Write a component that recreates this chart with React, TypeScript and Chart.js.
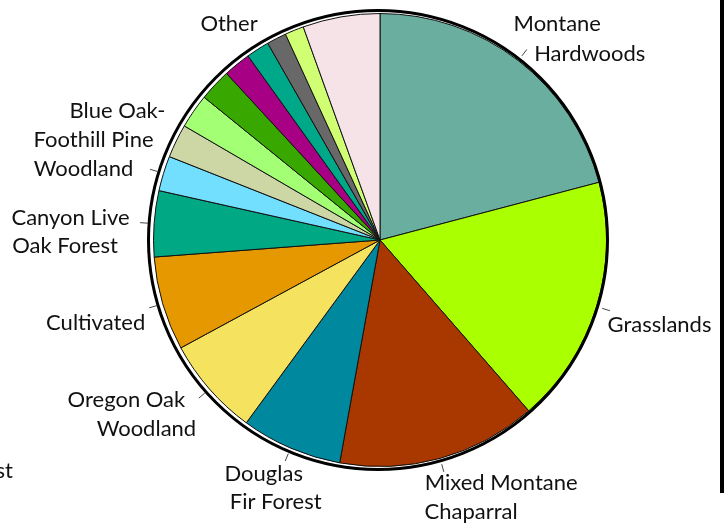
import React, { useEffect, useRef } from "react";
import { Chart, registerables } from "chart.js";

Chart.register(...registerables);

// ---- data ----
const categories = [
  "Montane Hardwoods",
  "Grasslands",
  "Mixed Montane Chaparral",
  "Douglas Fir Forest",
  "Oregon Oak Woodland",
  "Cultivated",
  "Canyon Live Oak Forest",
  "Blue Oak-Foothill Pine Woodland",
  "Unlabelled A",
  "Unlabelled B",
  "Unlabelled C",
  "Unlabelled D",
  "Unlabelled E",
  "Unlabelled F",
  "Unlabelled G",
  "Other",
];

const values = [20.9, 17.7, 14.25, 7.2, 7.05, 6.7, 4.7, 2.5, 2.4, 2.45, 2.3, 1.95, 1.65, 1.4, 1.35, 5.5];

const sliceColors = [
  "#6aaea0",
  "#aaff00",
  "#a83800",
  "#00889f",
  "#f5e35f",
  "#e69800",
  "#00a884",
  "#73dfff",
  "#cdd7a5",
  "#a3ff73",
  "#38a800",
  "#a80084",
  "#00a88a",
  "#686868",
  "#d1ff73",
  "#f5e3e8",
];

// label text lines shown for each slice (empty = no label)
const labelLines: string[][] = [
  ["Montane", "Hardwoods"],
  ["Grasslands"],
  ["Mixed Montane", "Chaparral"],
  ["Douglas", "Fir Forest"],
  ["Oregon Oak", "Woodland"],
  ["Cultivated"],
  ["Canyon Live", "Oak Forest"],
  ["Blue Oak-", "Foothill Pine", "Woodland"],
  [], [], [], [], [], [], [],
  ["Other"],
];

// ---- label layout (offsets of each line's centre from the slice's edge mid-point) ----
const LABEL_LAYOUT: ({ leader: boolean; offsets: [number, number][] } | null)[] = [
  { leader: true, offsets: [[39, -37], [71.5, -7]] },
  { leader: true, offsets: [[63, 18]] },
  { leader: true, offsets: [[61, 25], [31, 54]] },
  { leader: true, offsets: [[-27, 26], [-15, 54]] },
  { leader: true, offsets: [[-83, 11], [-63, 40]] },
  { leader: true, offsets: [[-67, 19]] },
  { leader: true, offsets: [[-83.5, -6], [-89, 22]] },
  { leader: true, offsets: [[-46, -62], [-70, -33], [-80, -4]] },
  null, null, null, null, null, null, null,
  { leader: false, offsets: [[-112, 7]] },
];

const FONT = '22px Lato, "Open Sans", sans-serif';

const labelPlugin = {
  id: "pieLabels",
  afterDraw(chart: any) {
    const ctx = chart.ctx as CanvasRenderingContext2D;
    const meta = chart.getDatasetMeta(0);
    if (!meta || !meta.data.length) return;
    const first = meta.data[0] as any;
    const cx = first.x;
    const cy = first.y;
    const r = first.outerRadius;

    ctx.save();
    // outer ring
    ctx.beginPath();
    ctx.strokeStyle = "#000";
    ctx.lineWidth = 3;
    ctx.arc(cx - 2, cy, r + 3, 0, Math.PI * 2);
    ctx.stroke();

    ctx.font = FONT;
    ctx.fillStyle = "#111";
    ctx.textAlign = "center";
    ctx.textBaseline = "middle";

    meta.data.forEach((arc: any, i: number) => {
      const layout = LABEL_LAYOUT[i];
      const lines = labelLines[i];
      if (!layout || !lines.length) return;
      const mid = (arc.startAngle + arc.endAngle) / 2;
      const px = cx + Math.cos(mid) * r;
      const py = cy + Math.sin(mid) * r;
      if (layout.leader) {
        ctx.beginPath();
        ctx.strokeStyle = "#444";
        ctx.lineWidth = 1;
        ctx.moveTo(cx + Math.cos(mid) * (r + 6), cy + Math.sin(mid) * (r + 6));
        ctx.lineTo(cx + Math.cos(mid) * (r + 14), cy + Math.sin(mid) * (r + 14));
        ctx.stroke();
      }
      lines.forEach((t, k) => {
        const off = layout.offsets[k] || [0, 0];
        ctx.fillText(t, px + off[0], py + off[1]);
      });
    });

    // cut-off text at the lower left edge
    ctx.textAlign = "right";
    ctx.fillText("Forest", 13, 471);

    // vertical bar at the right edge
    ctx.fillStyle = "#000";
    ctx.fillRect(720, 0, 4, 493);
    ctx.restore();
  },
};

export default function App() {
  const ref = useRef<HTMLCanvasElement | null>(null);
  useEffect(() => {
    if (!ref.current) return;
    const chart = new Chart(ref.current, {
      type: "pie",
      data: {
        labels: categories,
        datasets: [
          {
            data: values,
            backgroundColor: sliceColors,
            borderColor: "#111",
            borderWidth: 1,
          },
        ],
      },
      options: {
        animation: false,
        responsive: true,
        maintainAspectRatio: false,
        layout: { padding: { left: 153, right: 121, top: 13, bottom: 58 } },
        plugins: {
          legend: { display: false },
          tooltip: { enabled: false },
        },
      },
      plugins: [labelPlugin],
    });
    return () => chart.destroy();
  }, []);
  return (
    <div style={{ position: "absolute", left: 0, top: 0, width: 728, height: 525, background: "#fff" }}>
      <canvas ref={ref} />
    </div>
  );
}
